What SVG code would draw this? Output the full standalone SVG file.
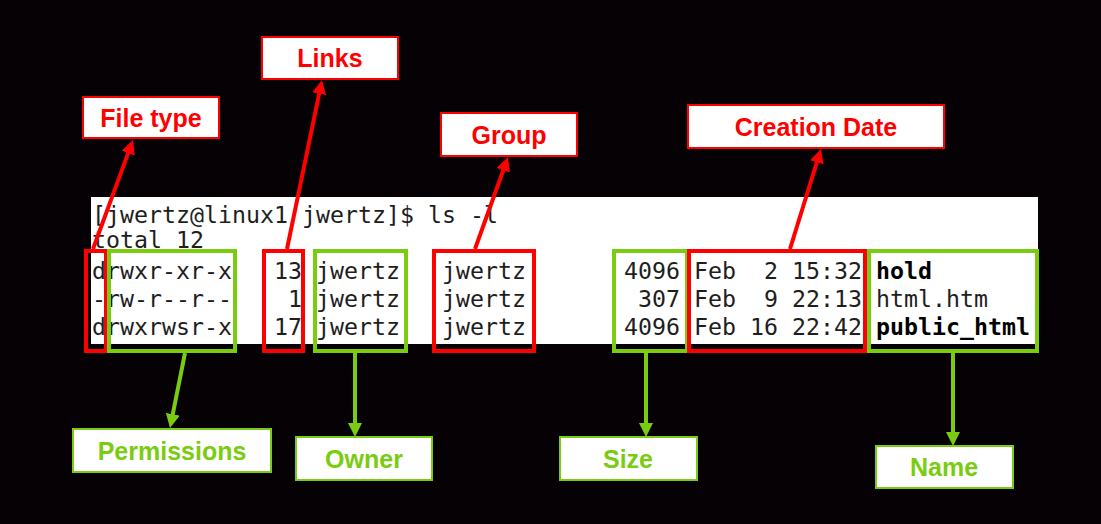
<svg xmlns="http://www.w3.org/2000/svg" width="1101" height="524" viewBox="0 0 1101 524">
<style>
.term{font-family:"DejaVu Sans Mono","Liberation Mono",monospace;font-size:23.25px;fill:#1e1e1e}
.b{font-weight:bold;fill:#000}
.lbl{font-family:"Liberation Sans",Arial,sans-serif;font-weight:bold;font-size:25px;text-anchor:middle}
.rl{fill:#fff;stroke:#ff0000;stroke-width:2}
.gl{fill:#fff;stroke:#7acc10;stroke-width:2}
.rt{fill:#ff0000}
.gt{fill:#7acc10}
.rb{fill:none;stroke:#ff0000;stroke-width:4}
.gb{fill:none;stroke:#7acc10;stroke-width:4}
.rc{stroke:#ff0000;stroke-width:4;fill:none}
.gc{stroke:#7acc10;stroke-width:4;fill:none}
</style>
<defs>
<marker id="ar" markerUnits="userSpaceOnUse" markerWidth="14" markerHeight="14" refX="8" refY="7" orient="auto"><path d="M0,0 L14,7 L0,14 z" fill="#ff0000"/></marker>
<marker id="ag" markerUnits="userSpaceOnUse" markerWidth="14" markerHeight="14" refX="8" refY="7" orient="auto"><path d="M0,0 L14,7 L0,14 z" fill="#7acc10"/></marker>
</defs>
<rect width="1101" height="524" fill="#050105"/>
<g id="terminal">
<rect x="91" y="197" width="947" height="147" fill="#fff"/>
<text class="term" x="92" y="223" xml:space="preserve">[jwertz@linux1 jwertz]$ ls -l</text>
<text class="term" x="92" y="248">total 12</text>
<text class="term" x="92" y="279">drwxr-xr-x</text>
<text class="term" x="274" y="279">13</text>
<text class="term" x="316" y="279">jwertz</text>
<text class="term" x="442" y="279">jwertz</text>
<text class="term" x="624" y="279">4096</text>
<text class="term" x="694" y="279">Feb</text>
<text class="term" x="764" y="279">2</text>
<text class="term" x="792" y="279">15:32</text>
<text class="term b" x="876" y="279">hold</text>
<text class="term" x="92" y="307">-rw-r--r--</text>
<text class="term" x="288" y="307">1</text>
<text class="term" x="316" y="307">jwertz</text>
<text class="term" x="442" y="307">jwertz</text>
<text class="term" x="638" y="307">307</text>
<text class="term" x="694" y="307">Feb</text>
<text class="term" x="764" y="307">9</text>
<text class="term" x="792" y="307">22:13</text>
<text class="term" x="876" y="307">html.htm</text>
<text class="term" x="92" y="335">drwxrwsr-x</text>
<text class="term" x="274" y="335">17</text>
<text class="term" x="316" y="335">jwertz</text>
<text class="term" x="442" y="335">jwertz</text>
<text class="term" x="624" y="335">4096</text>
<text class="term" x="694" y="335">Feb</text>
<text class="term" x="750" y="335">16</text>
<text class="term" x="792" y="335">22:42</text>
<text class="term b" x="876" y="335">public_html</text>
</g>
<g id="highlights">
<rect class="rb" x="86" y="251" width="20" height="100"/>
<rect class="gb" x="109" y="251" width="126" height="100"/>
<rect class="rb" x="264" y="251" width="39" height="100"/>
<rect class="gb" x="315" y="251" width="91" height="100"/>
<rect class="rb" x="434" y="251" width="100" height="100"/>
<rect class="gb" x="614" y="251" width="73" height="100"/>
<rect class="rb" x="689" y="251" width="176" height="100"/>
<rect class="gb" x="869" y="251" width="168" height="100"/>
</g>
<g id="connectors">
<line class="rc" x1="93" y1="249" x2="130.9" y2="145.6" marker-end="url(#ar)"/>
<line class="rc" x1="287" y1="249" x2="320.8" y2="85.9" marker-end="url(#ar)"/>
<line class="rc" x1="475" y1="249" x2="506" y2="162.7" marker-end="url(#ar)"/>
<line class="rc" x1="790" y1="249" x2="819.2" y2="154.7" marker-end="url(#ar)"/>
<line class="gc" x1="185" y1="353" x2="171.2" y2="422.1" marker-end="url(#ag)"/>
<line class="gc" x1="355" y1="353" x2="355" y2="431" marker-end="url(#ag)"/>
<line class="gc" x1="646" y1="353" x2="646" y2="431" marker-end="url(#ag)"/>
<line class="gc" x1="953" y1="353" x2="953" y2="440" marker-end="url(#ag)"/>
</g>
<g id="file-type"><rect class="rl" x="83" y="97" width="136" height="41"/><text class="lbl rt" x="151" y="127">File type</text></g>
<g id="links"><rect class="rl" x="262" y="37" width="136" height="42"/><text class="lbl rt" x="330" y="67">Links</text></g>
<g id="group"><rect class="rl" x="441" y="113" width="136" height="43"/><text class="lbl rt" x="509" y="144">Group</text></g>
<g id="creation-date"><rect class="rl" x="688" y="105" width="256" height="43"/><text class="lbl rt" x="816" y="136">Creation Date</text></g>
<g id="permissions"><rect class="gl" x="73" y="429" width="198" height="43"/><text class="lbl gt" x="172" y="460">Permissions</text></g>
<g id="owner"><rect class="gl" x="296" y="437" width="136" height="43"/><text class="lbl gt" x="364" y="468">Owner</text></g>
<g id="size"><rect class="gl" x="560" y="437" width="137" height="43"/><text class="lbl gt" x="628" y="468">Size</text></g>
<g id="name"><rect class="gl" x="876" y="446" width="137" height="42"/><text class="lbl gt" x="944" y="476">Name</text></g>
</svg>
